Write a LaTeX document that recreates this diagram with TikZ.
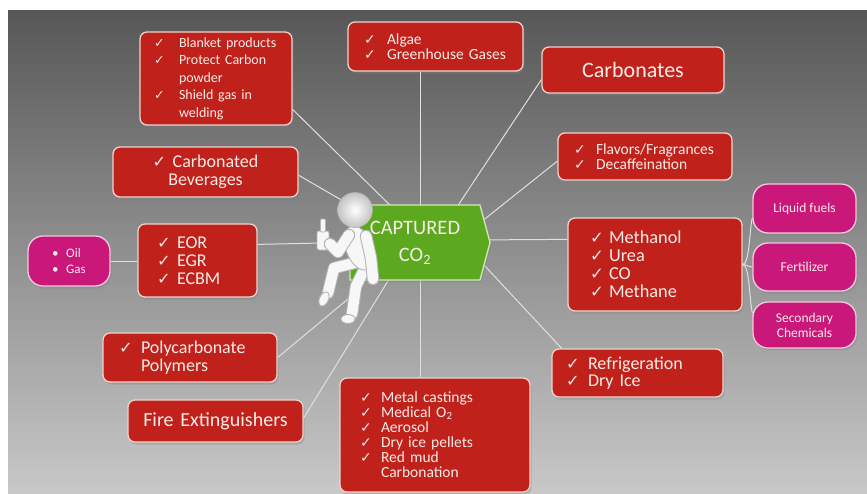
\documentclass[tikz,border=0pt]{standalone}
\usepackage{fontspec}
\setmainfont{Carlito}
\newfontfamily\tickfont{DejaVu Sans}
\usetikzlibrary{shapes.symbols,shadows,fadings,calc}

\definecolor{boxred}{HTML}{C0221B}
\definecolor{boxedge}{HTML}{EDD3CC}
\definecolor{boxpink}{HTML}{C9177A}
\definecolor{pinkedge}{HTML}{F2C9DF}
\definecolor{hubgreen}{HTML}{5CA91F}
\definecolor{hubedge}{HTML}{D2E8B8}
\definecolor{labeltext}{HTML}{F8ECE8}
\definecolor{wire}{HTML}{E0E0E0}
\definecolor{bgtop}{HTML}{575757}
\definecolor{bgmid}{HTML}{898989}
\definecolor{bgbot}{HTML}{C8C8C8}
\definecolor{figbody}{HTML}{F7F7F7}
\definecolor{figedge}{HTML}{B4B4B4}

% tick bullet in a column of given width, and the matching indent
\newcommand\tk[1]{\makebox[#1][l]{\tickfont\scalebox{0.9}{✓}}}
\newcommand\tkgap[1]{\hspace*{#1}}

\tikzfading[name=midglow, left color=transparent!100, middle color=transparent!0, right color=transparent!100]

\begin{document}
\begin{tikzpicture}[x=1pt,y=-1pt,
  every node/.style={text=labeltext},
  redbox/.style={rounded corners=7pt, fill=boxred, draw=boxedge, line width=1.3pt,
    drop shadow={shadow xshift=1.5pt, shadow yshift=-2.5pt, opacity=0.35},
    inner ysep=0pt},
  listbox/.style={redbox, align=left},
  titlebox/.style={redbox, align=center},
  pinkbox/.style={rounded corners=15pt, fill=boxpink, draw=pinkedge, line width=1.3pt,
    drop shadow={shadow xshift=1.5pt, shadow yshift=-2.5pt, opacity=0.35},
    align=center, inner sep=0pt, minimum width=103pt,
    font=\fontsize{13.5}{15}\selectfont},
  spoke/.style={draw=wire, line width=1pt},
  limbedge/.style={draw=figedge, line width=12.5pt, line cap=round, line join=round},
  limbfill/.style={draw=figbody, line width=10.5pt, line cap=round, line join=round},
  figpart/.style={fill=figbody, draw=figedge, line width=0.9pt},
]
\useasboundingbox (0,0) rectangle (867,493);

% backdrop
\fill[white] (0,0) rectangle (867,493);
\shade[top color=bgtop, middle color=bgmid, bottom color=bgbot] (8,10) rectangle (867,493);
\fill[white, fill opacity=0.16, path fading=midglow]
  (176,124) -- (252,124) -- (252,440) -- (214,478) -- (176,440) -- cycle;

% boxes
\node[listbox, text width=124pt, inner xsep=14pt, minimum height=93pt,
      font=\fontsize{14}{17.5}\selectfont] (blanket) at (216,78.5)
  {\tk{25pt}Blanket products\\ \tk{25pt}Protect Carbon\\ \tkgap{25pt}powder\\ \tk{25pt}Shield gas in\\ \tkgap{25pt}welding};

\node[listbox, text width=143pt, inner xsep=16pt, minimum height=49pt,
      font=\fontsize{15.5}{15.5}\selectfont] (algae) at (435.5,46.5)
  {\tk{23pt}Algae\\ \tk{23pt}Greenhouse Gases};

\node[titlebox, text width=182pt, inner xsep=0pt, minimum height=46pt,
      font=\fontsize{22}{24}\selectfont] (carb) at (633,70) {Carbonates};

\node[listbox, text width=142pt, inner xsep=16pt, minimum height=47pt,
      font=\fontsize{15.5}{15.5}\selectfont] (flav) at (645,156.5)
  {\tk{22pt}Flavors/Fragrances\\ \tk{22pt}Decaffeination};

\node[titlebox, text width=185pt, inner xsep=0pt, minimum height=50pt,
      font=\fontsize{18}{17.5}\selectfont] (bev) at (205.5,172)
  {\tk{20pt}Carbonated\\ Beverages};

\node[listbox, text width=81pt, inner xsep=19pt, minimum height=73pt,
      font=\fontsize{18}{18}\selectfont] (eor) at (197.5,260.5)
  {\tk{20pt}EOR\\ \tk{20pt}EGR\\ \tk{20pt}ECBM};

\node[pinkbox, minimum width=82pt, minimum height=50pt, align=left,
      font=\fontsize{13}{15.5}\selectfont] (oil) at (69,261)
  {\makebox[14pt][l]{•}Oil\\ \makebox[14pt][l]{•}Gas};

\node[listbox, text width=130pt, inner xsep=22pt, minimum height=93pt,
      font=\fontsize{18.3}{18}\selectfont] (meth) at (655,264.5)
  {\tk{19pt}Methanol\\ \tk{19pt}Urea\\ \tk{19pt}CO\\ \tk{19pt}Methane};

\node[pinkbox, minimum height=49pt] (liq) at (804.5,208.5) {Liquid fuels};
\node[pinkbox, minimum height=48pt] (fert) at (804.5,267) {Fertilizer};
\node[pinkbox, minimum height=46pt] (sec) at (804.5,325) {Secondary\\Chemicals};

\node[listbox, text width=143pt, inner xsep=14pt, minimum height=48pt,
      font=\fontsize{18}{17.5}\selectfont] (refr) at (637.5,373)
  {\tk{22pt}Refrigeration\\ \tk{22pt}Dry Ice};

\node[listbox, text width=150pt, inner xsep=20pt, minimum height=114pt,
      font=\fontsize{15.5}{15}\selectfont] (metal) at (435,435)
  {\tk{21pt}Metal castings\\ \tk{21pt}Medical O\textsubscript{2}\\ \tk{21pt}Aerosol\\
   \tk{21pt}Dry ice pellets\\ \tk{21pt}Red mud\\ \tkgap{21pt}Carbonation};

\node[listbox, text width=142pt, inner xsep=16pt, minimum height=49pt,
      font=\fontsize{18}{17.5}\selectfont] (poly) at (190,357.5)
  {\tk{22pt}Polycarbonate\\ \tkgap{22pt}Polymers};

\node[titlebox, text width=175pt, inner xsep=0pt, minimum height=42pt,
      font=\fontsize{20}{22}\selectfont] (fire) at (215.5,421) {Fire Extinguishers};

% spoke ends hidden behind the hub and the figure
\coordinate (vx)  at (420,243);
\coordinate (hBl) at (397,212);
\coordinate (hCa) at (447,222);
\coordinate (hFl) at (466,234);
\coordinate (hBe) at (350,205);
\coordinate (hEo) at (322,243);
\coordinate (hMe) at (470,240);
\coordinate (hRe) at (470,250);
\coordinate (hPo) at (360,289);
\coordinate (hFi) at (391,276);

\draw[spoke] (algae.south -| vx) -- (metal.north -| vx);
\draw[spoke] (blanket.-22.5) -- (hBl);
\draw[spoke] (carb.186) -- (hCa);
\draw[spoke] (flav.183) -- (hFl);
\draw[spoke] (bev.-2) -- (hBe);
\draw[spoke] (eor.15) -- (hEo);
\draw[spoke] (oil.east) -- (oil.east -| eor.west);
\draw[spoke] (meth.164) -- (hMe);
\draw[spoke] (refr.162) -- (hRe);
\draw[spoke] (poly.east) -- (hPo);
\draw[spoke] (fire.2) -- (hFi);
\draw[spoke] (meth.east) .. controls +(7,0) and +(-3,12) .. (liq.190);
\draw[spoke] (meth.east) .. controls +(5,0) and +(-5,0) .. (fert.west);
\draw[spoke] (meth.east) .. controls +(7,0) and +(-3,-12) .. (sec.167);

% hub
\node[signal, signal to=east, signal pointer angle=150, fill=hubgreen, draw=hubedge,
      line width=1.3pt, minimum width=140pt, minimum height=75pt, inner sep=0pt,
      align=center, font=\fontsize{20.5}{27}\selectfont,
      drop shadow={shadow xshift=1.5pt, shadow yshift=-2.5pt, opacity=0.35}] (co2) at (415,242.5)
  {CAPTURED\\CO\textsubscript{2}};

% little white figure giving a thumbs-up
\draw[limbedge] (366,266) -- (356,286) -- (352,314);
\draw[limbfill] (366,266) -- (356,286) -- (352,314);
\draw[limbedge] (362,261) -- (334,268) -- (328,293);
\draw[limbfill] (362,261) -- (334,268) -- (328,293);
\filldraw[figpart] (348,319) ellipse (7 and 4.5);
\filldraw[figpart, rotate around={-25:(324,299)}] (324,299) ellipse (4.5 and 7.5);
\filldraw[figpart, rotate around={20:(359,248)}] (359,248) ellipse (13 and 23);
\draw[limbedge] (366,236) -- (371,258) -- (373,279);
\draw[limbfill] (366,236) -- (371,258) -- (373,279);
\filldraw[figpart, rounded corners=2pt] (317,250) rectangle (329,231);
\filldraw[figpart, rounded corners=1pt] (320.5,232) rectangle (325.5,219);
\draw[limbedge] (349,235) -- (338,252) -- (330,244);
\draw[limbfill] (349,235) -- (338,252) -- (330,244);
\shade[inner color=white, outer color=figedge!80!white, draw=figedge, line width=0.6pt]
  (355,210) circle (17.5);
\end{tikzpicture}
\end{document}
